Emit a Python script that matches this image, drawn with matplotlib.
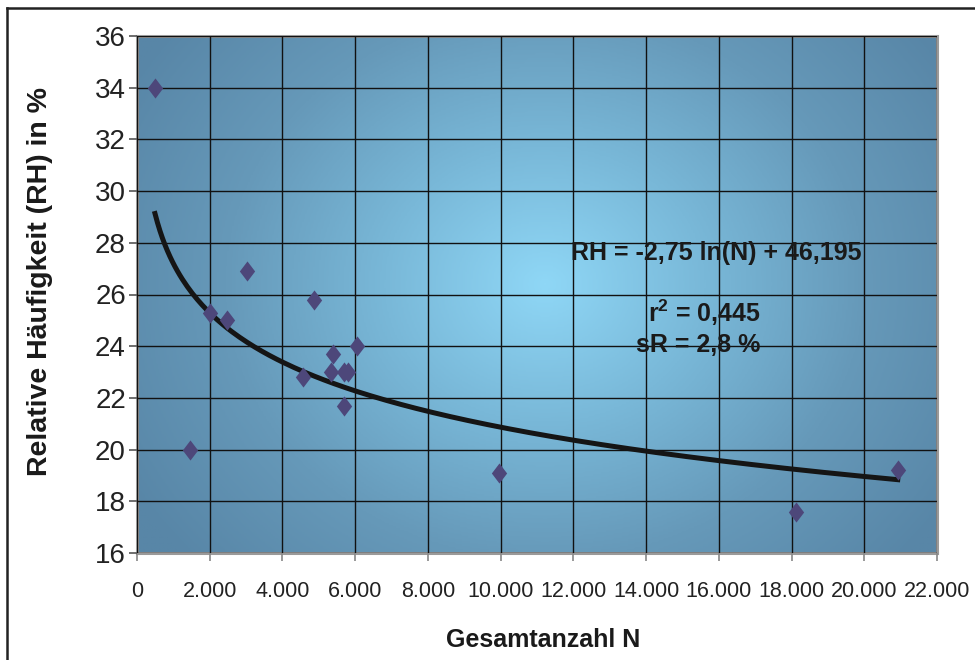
import numpy as np
import matplotlib
matplotlib.use("Agg")
import matplotlib.pyplot as plt
from matplotlib import font_manager
from matplotlib.path import Path
from matplotlib.colors import LinearSegmentedColormap
from matplotlib.ticker import FuncFormatter
from matplotlib.lines import Line2D

# ---- data ----
n_values = [495, 1460, 2010, 2480, 3030, 4570, 4870, 5340, 5390, 5690, 5700, 5800, 6050, 9950, 18130, 20920]
rh_values = [34.0, 20.0, 25.3, 25.0, 26.9, 22.8, 25.8, 23.0, 23.7, 21.7, 23.0, 23.0, 24.0, 19.1, 17.6, 19.2]
fit_slope = -2.75
fit_intercept = 46.195
x_ticks = [0, 2000, 4000, 6000, 8000, 10000, 12000, 14000, 16000, 18000, 20000, 22000]
y_ticks = [16, 18, 20, 22, 24, 26, 28, 30, 32, 34, 36]
eq_text = "RH = -2,75 ln(N) + 46,195"
r2_text = "r$^{\\mathbf{2}}$ = 0,445"
sr_text = "sR = 2,8 %"
x_label = "Gesamtanzahl N"
y_label = "Relative Häufigkeit (RH) in %"

avail = {f.name for f in font_manager.fontManager.ttflist}
narrow = "Liberation Sans Narrow" if "Liberation Sans Narrow" in avail else "Liberation Sans"
plt.rcParams['font.family'] = [narrow, 'DejaVu Sans']
plt.rcParams['mathtext.fontset'] = 'custom'
plt.rcParams['mathtext.rm'] = narrow
plt.rcParams['mathtext.bf'] = narrow + ':bold'

fig = plt.figure(figsize=(9.75, 6.6), dpi=100)
ax = fig.add_axes([137/975, 1-553/660, 800/975, 517/660])

# radial gradient background
ny, nx = 300, 500
yy, xx = np.mgrid[0:1:ny*1j, 0:1:nx*1j]
cx, cy = 0.51, 0.52
r = np.sqrt(((xx-cx)/0.60)**2 + ((yy-cy)/0.80)**2)
r = np.clip(r, 0, 1)
cmap = LinearSegmentedColormap.from_list('bg', ['#8fd7f6', '#79b8d8', '#6699b9', '#5886a7'])
ax.imshow(r, cmap=cmap, extent=[0, 22000, 16, 36], origin='lower', aspect='auto', zorder=0, vmin=0, vmax=1)

ax.set_xlim(0, 22000)
ax.set_ylim(16, 36)
ax.set_xticks(x_ticks)
ax.set_yticks(y_ticks)
ax.xaxis.set_major_formatter(FuncFormatter(lambda v, p: f"{int(v):,}".replace(",", ".")))
ax.grid(True, color='#111111', linewidth=1.0, zorder=1)
ax.set_axisbelow(False)
for s in ax.spines.values():
    s.set_color('#9a9a9a')
    s.set_linewidth(2.2)
    s.set_zorder(2)
ax.tick_params(axis='y', direction='out', length=6, width=1.2, color='#555555', labelsize=20, pad=2, labelcolor='#222222')
ax.tick_params(axis='x', direction='out', length=6, width=1.2, color='#888888', labelsize=15.5, pad=14, labelcolor='#222222')

# fitted trendline from displayed coefficients
n_fit = np.linspace(min(n_values), max(n_values), 300)
rh_fit = fit_slope*np.log(n_fit) + fit_intercept
ax.plot(n_fit, rh_fit, color='#151515', linewidth=3.6, zorder=3)

diamond = Path([(0, 1), (0.76, 0), (0, -1), (-0.76, 0), (0, 1)],
               [Path.MOVETO, Path.LINETO, Path.LINETO, Path.LINETO, Path.CLOSEPOLY])
ax.scatter(n_values, rh_values, marker=diamond, s=210, color='#4d477a', zorder=4, linewidths=0)

ax.text(0.724, 0.580, eq_text, transform=ax.transAxes, ha='center', va='center',
        fontsize=18, fontweight='bold', color='#1a1a1a', zorder=5)
ax.text(0.709, 0.464, r2_text, transform=ax.transAxes, ha='center', va='center',
        fontsize=18, fontweight='bold', color='#1a1a1a', zorder=5)
ax.text(0.701, 0.402, sr_text, transform=ax.transAxes, ha='center', va='center',
        fontsize=18, fontweight='bold', color='#1a1a1a', zorder=5)

fig.text(543/975, 1-640/660, x_label, ha='center', va='center', fontsize=18, fontweight='bold', color='#1a1a1a')
fig.text(40/975, 1-282/660, y_label, ha='center', va='center', rotation=90, fontsize=20.5, fontweight='bold', color='#1a1a1a')

# outer frame (left and top)
fig.add_artist(Line2D([6.5/975, 6.5/975], [0, 1-8/660], transform=fig.transFigure, color='#222222', linewidth=1.8))
fig.add_artist(Line2D([6.5/975, 1], [1-8/660, 1-8/660], transform=fig.transFigure, color='#222222', linewidth=1.8))

fig.savefig("out.png", dpi=100)
